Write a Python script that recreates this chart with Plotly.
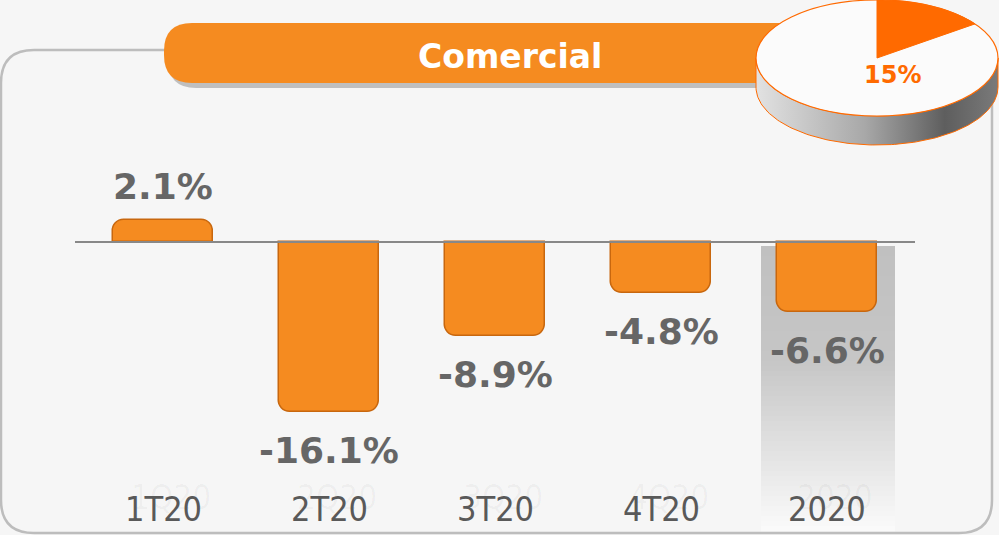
import plotly.graph_objects as go
import numpy as np

# ---------------- data ----------------
categories = ["1T20", "2T20", "3T20", "4T20", "2020"]
ghost_labels = ["1Q20", "2Q20", "3Q20", "4Q20", "2020"]
values = [2.1, -16.1, -8.9, -4.8, -6.6]
title_text = "Comercial"
share_value = 15  # % shown in the pie

W, H = 999, 535
# pixel geometry of the chart (layout only)
X0_PX, DX_PX = 163, 166      # centre of first category, spacing
Y0_PX, DY_PX = 242, 10.55    # baseline pixel, pixels per unit

def xd(px):
    return (px - X0_PX) / DX_PX

def yd(py):
    return (Y0_PX - py) / DY_PX

def P(px, py):
    return f"{px / W:.5f},{1 - py / H:.5f}"

def rrect(x0, y0, x1, y1, r):
    return (f"M{P(x0 + r, y0)} L{P(x1 - r, y0)} Q{P(x1, y0)} {P(x1, y0 + r)} "
            f"L{P(x1, y1 - r)} Q{P(x1, y1)} {P(x1 - r, y1)} L{P(x0 + r, y1)} "
            f"Q{P(x0, y1)} {P(x0, y1 - r)} L{P(x0, y0 + r)} Q{P(x0, y0)} {P(x0 + r, y0)} Z")

def lerp_col(c0, c1, f):
    return "rgb(%d,%d,%d)" % tuple(round(a + (b - a) * f) for a, b in zip(c0, c1))

ORANGE = "#F58B20"
PIE_ORANGE = "#FF6A00"
LABEL_GRAY = "#666666"
TICK_GRAY = "#595959"

fig = go.Figure()

# bars
fig.add_trace(go.Bar(
    x=list(range(len(categories))), y=values, width=100 / DX_PX,
    marker=dict(color=ORANGE, cornerradius=12,
                line=dict(color="#C8670E", width=1.5)),
    hoverinfo="skip", showlegend=False,
))

# pie side (3D rim) with horizontal gradient
cx, cy, rx, ry, depth = 877, 58, 121, 58, 29
t = np.linspace(0, np.pi, 120)
top_x = cx - rx * np.cos(t)
top_y = cy + ry * np.sin(t)
bot_x = top_x[::-1]
bot_y = (cy + depth) + ry * np.sin(t[::-1])
side_px = np.concatenate([top_x, bot_x, top_x[:1]])
side_py = np.concatenate([top_y, bot_y, top_y[:1]])
fig.add_trace(go.Scatter(
    x=[xd(v) for v in side_px], y=[yd(v) for v in side_py],
    mode="lines", line=dict(color=PIE_ORANGE, width=1), fill="toself",
    hoverinfo="skip", showlegend=False,
    fillgradient=dict(type="horizontal",
                      colorscale=[[0, "#e2e2e2"], [0.45, "#a8a8a8"], [0.78, "#5e5e5e"], [1, "#7a7a7a"]],
                      start=xd(cx - rx), stop=xd(cx + rx)),
))

shapes = []
# gradient highlight column behind the last category (thin strips)
gx0, gx1, gy0, gy1 = 761, 895, 246, 531
n = 57
top_c, mid_c, bot_c = (192, 192, 192), (198, 198, 198), (250, 250, 250)
for k in range(n):
    ya = gy0 + (gy1 - gy0) * k / n
    yb = gy0 + (gy1 - gy0) * (k + 1) / n + 0.6
    f = k / (n - 1)
    if f < 0.4:
        col = lerp_col(top_c, mid_c, f / 0.4)
    else:
        col = lerp_col(mid_c, bot_c, (f - 0.4) / 0.6)
    shapes.append(dict(type="rect", xref="paper", yref="paper", layer="below",
                       x0=gx0 / W, x1=gx1 / W, y0=1 - yb / H, y1=1 - ya / H,
                       fillcolor=col, line=dict(width=0)))
# frame
fr = 33
shapes.append(dict(type="path", xref="paper", yref="paper", layer="below",
                   path=rrect(1, 50, 992, 533, fr),
                   line=dict(color="#BDBDBD", width=2.5), fillcolor="rgba(0,0,0,0)"))
# banner shadow + banner
shapes.append(dict(type="path", xref="paper", yref="paper", layer="below",
                   path=rrect(168, 28, 852, 88, 28),
                   line=dict(width=0), fillcolor="rgba(90,90,90,0.35)"))
shapes.append(dict(type="path", xref="paper", yref="paper", layer="below",
                   path=rrect(164, 23, 850, 83, 28),
                   line=dict(width=0), fillcolor=ORANGE))
# baseline
shapes.append(dict(type="line", xref="paper", yref="y", x0=75 / W, x1=915 / W, y0=0, y1=0,
                   line=dict(color="#888888", width=2), layer="above"))
# pie top face
shapes.append(dict(type="circle", xref="paper", yref="paper",
                   x0=(cx - rx) / W, x1=(cx + rx) / W, y0=1 - (cy + ry) / H, y1=1 - (cy - ry) / H,
                   fillcolor="#FBFBFB", line=dict(color=PIE_ORANGE, width=1.2), layer="above"))
# pie wedge
ang = np.linspace(0, 2 * np.pi * share_value / 100, 40)
wpts = [P(cx, cy)] + [P(cx + rx * np.sin(a), cy - ry * np.cos(a)) for a in ang]
shapes.append(dict(type="path", xref="paper", yref="paper", layer="above",
                   path="M" + " L".join(wpts) + " Z",
                   fillcolor=PIE_ORANGE, line=dict(color=PIE_ORANGE, width=1)))
fig.update_layout(shapes=shapes)

annotations = []
# faint ghost labels behind the category labels
for i, g in enumerate(ghost_labels):
    annotations.append(dict(x=i, y=yd(497), xref="x", yref="y", text=g, showarrow=False,
                            xanchor="center", yanchor="middle", xshift=8,
                            font=dict(family="DejaVu Sans Condensed, DejaVu Sans", size=33,
                                      color="rgba(0,0,0,0.035)")))
# title
annotations.append(dict(x=510 / W, y=1 - 56 / H, xref="paper", yref="paper", text=title_text,
                        xanchor="center", yanchor="middle", showarrow=False,
                        font=dict(family="DejaVu Sans", size=33, color="white", weight="bold")))
# pie label
annotations.append(dict(x=892 / W, y=1 - 75 / H, xref="paper", yref="paper", text=f"{share_value}%",
                        xanchor="center", yanchor="middle", showarrow=False,
                        font=dict(family="DejaVu Sans", size=24, color=PIE_ORANGE, weight="bold")))
# value labels
for i, v in enumerate(values):
    annotations.append(dict(x=i, y=v, xref="x", yref="y", text=f"{v:.1f}%", showarrow=False,
                            xanchor="center", yanchor="middle",
                            yshift=33 if v >= 0 else -39,
                            font=dict(family="DejaVu Sans", size=36, color=LABEL_GRAY, weight="bold")))
# category labels
for i, c in enumerate(categories):
    annotations.append(dict(x=i, y=yd(509), xref="x", yref="y", text=c, showarrow=False,
                            xanchor="center", yanchor="middle",
                            font=dict(family="DejaVu Sans Condensed, DejaVu Sans", size=34, color=TICK_GRAY)))
fig.update_layout(annotations=annotations)

fig.update_layout(
    width=W, height=H, margin=dict(l=0, r=0, t=0, b=0),
    paper_bgcolor="#F6F6F6", plot_bgcolor="#F6F6F6",
    xaxis=dict(range=[xd(0), xd(W)], visible=False, fixedrange=True),
    yaxis=dict(range=[yd(H), yd(0)], visible=False, fixedrange=True),
    bargap=0, showlegend=False,
)

fig.write_html("out.html", config={"displayModeBar": False},
               post_script="document.body.style.margin='0';document.body.style.overflow='hidden';")
